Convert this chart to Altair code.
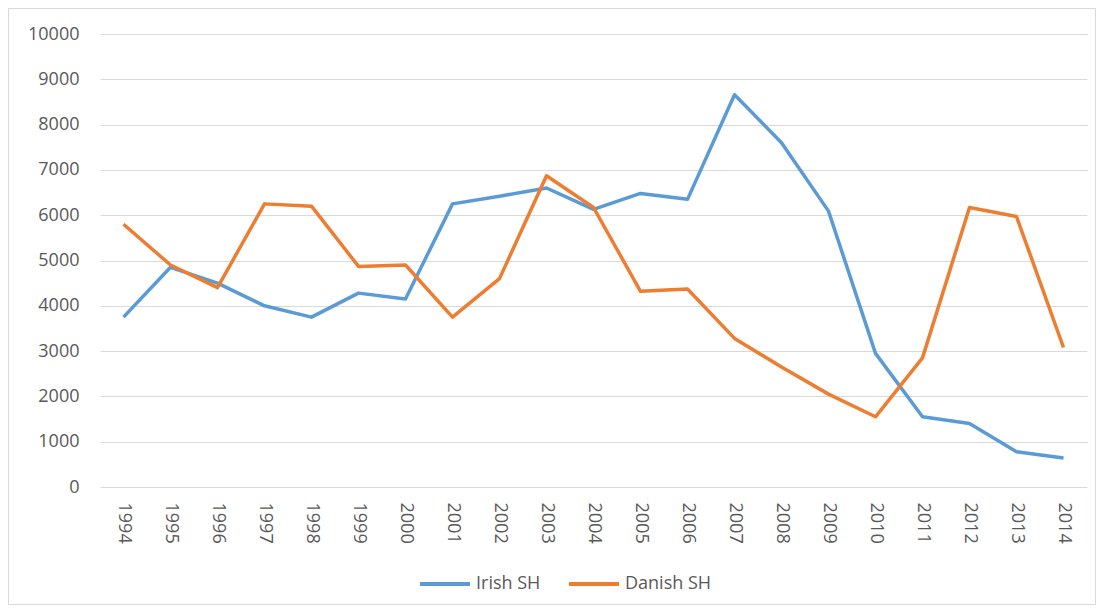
import altair as alt
import pandas as pd

years = [str(y) for y in range(1994, 2015)]
irish = [3750, 4850, 4500, 4000, 3750, 4280, 4150, 6250, 6420, 6600, 6130,
         6480, 6350, 8660, 7600, 6090, 2950, 1550, 1400, 780, 640]
danish = [5800, 4900, 4400, 6250, 6200, 4870, 4900, 3750, 4600, 6870, 6170,
          4320, 4370, 3280, 2650, 2050, 1550, 2850, 6170, 5970, 3080]
series = ["Irish SH", "Danish SH"]
colors = ["#5B9BD5", "#ED7D31"]

rows = []
for name, vals in zip(series, [irish, danish]):
    for yr, v in zip(years, vals):
        rows.append({"Year": yr, "Value": v, "Series": name})
df = pd.DataFrame(rows)

W, H = 987, 453
PL, PT, PR, PB = 92, 26, 9, 118
FONT = "Open Sans"
FS = 18

lines = alt.Chart(df).mark_line(strokeWidth=3.5, strokeJoin="round").encode(
    x=alt.X("Year:O", sort=years,
            scale=alt.Scale(type="point", padding=0.5),
            axis=alt.Axis(title=None, labelAngle=90, labelAlign="left", labelBaseline="middle",
                          labelPadding=15, ticks=False, domain=False, grid=False,
                          labelFont=FONT, labelFontSize=FS, labelColor="#595959")),
    y=alt.Y("Value:Q", scale=alt.Scale(domain=[0, 10000], nice=False),
            axis=alt.Axis(title=None, values=list(range(0, 10001, 1000)), format="d",
                          ticks=False, domain=False, gridColor="#d9d9d9", gridWidth=1,
                          labelPadding=21, labelFont=FONT, labelFontSize=FS,
                          labelColor="#595959")),
    color=alt.Color("Series:N", sort=series,
                    scale=alt.Scale(domain=series, range=colors),
                    legend=alt.Legend(title=None, orient="none", legendX=318, legendY=523,
                                      direction="horizontal", symbolType="stroke",
                                      symbolSize=2500, symbolStrokeWidth=4,
                                      labelFont=FONT, labelFontSize=FS, labelColor="#595959",
                                      columnPadding=20, labelOffset=4)),
    detail="Series:N",
)

border = alt.Chart(pd.DataFrame({"a": [0]})).mark_rect(
    fill=None, stroke="#d9d9d9", strokeWidth=1
).encode(
    x=alt.value(-PL + 0.5), x2=alt.value(W + PR - 0.5),
    y=alt.value(-PT + 0.5), y2=alt.value(H + PB - 0.5),
)

chart = alt.layer(border, lines).properties(
    width=W, height=H,
    autosize=alt.AutoSizeParams(type="none"),
    padding={"left": PL, "top": PT, "right": PR, "bottom": PB},
    background="white",
).configure_view(stroke=None)

chart.save("out.html", embed_options={"renderer": "svg", "actions": False})
